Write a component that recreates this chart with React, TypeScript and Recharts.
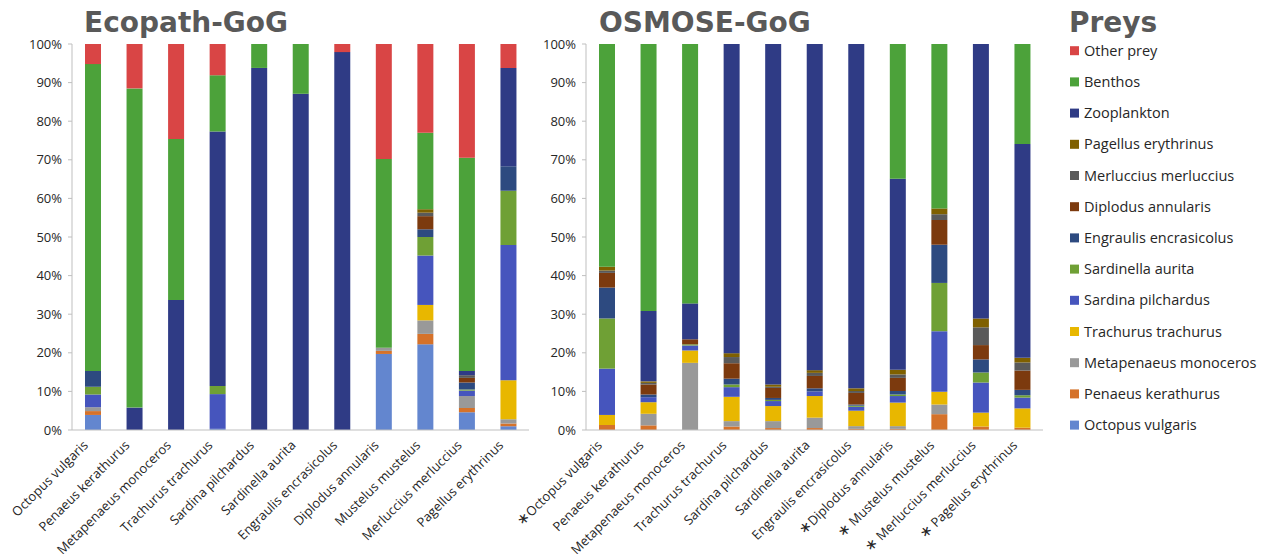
import React from 'react';
import { BarChart, Bar, XAxis, YAxis } from 'recharts';

const predators = [
  'Octopus vulgaris', 'Penaeus kerathurus', 'Metapenaeus monoceros', 'Trachurus trachurus',
  'Sardina pilchardus', 'Sardinella aurita', 'Engraulis encrasicolus', 'Diplodus annularis',
  'Mustelus mustelus', 'Merluccius merluccius', 'Pagellus erythrinus',
];
const ecopathLabels = [...predators];
const osmoseLabels = [
  '∗Octopus vulgaris', 'Penaeus kerathurus', 'Metapenaeus monoceros', 'Trachurus trachurus',
  'Sardina pilchardus', 'Sardinella aurita', 'Engraulis encrasicolus', '∗Diplodus annularis',
  '∗ Mustelus mustelus', '∗ Merluccius merluccius', '∗ Pagellus erythrinus',
];

// prey keys, bottom of stack to top
const preyKeys = [
  'Octopus vulgaris', 'Penaeus kerathurus', 'Metapenaeus monoceros', 'Trachurus trachurus',
  'Sardina pilchardus', 'Sardinella aurita', 'Engraulis encrasicolus', 'Diplodus annularis',
  'Merluccius merluccius', 'Pagellus erythrinus', 'Zooplankton', 'Benthos', 'Other prey',
];
const preyColors = [
  '#6386CF', '#D5722A', '#999999', '#E8B700', '#4655BD', '#6FA035', '#2D4A80',
  '#7C3A0E', '#5A5A5A', '#7F6000', '#2F3B85', '#4CA23A', '#D94545',
];

// Ecopath-GoG diet (%), per prey, across predators
const ecoOctopus = [3.9, 0, 0, 0.3, 0, 0, 0, 19.7, 22.2, 4.6, 1.0];
const ecoPenaeus = [1.0, 0, 0, 0, 0, 0, 0, 0.8, 2.7, 1.1, 0.7];
const ecoMetapenaeus = [1.0, 0, 0, 0, 0, 0, 0, 0.8, 3.5, 3.1, 1.1];
const ecoTrachurus = [0, 0, 0, 0, 0, 0, 0, 0, 4.0, 0, 10.1];
const ecoSardina = [3.3, 0, 0, 9.0, 0, 0, 0, 0, 12.8, 1.4, 35.0];
const ecoSardinella = [2.0, 0, 0, 2.1, 0, 0, 0, 0, 4.8, 0.3, 14.1];
const ecoEngraulis = [4.1, 0, 0, 0, 0, 0, 0, 0, 2.0, 1.8, 6.3];
const ecoDiplodus = [0, 0, 0, 0, 0, 0, 0, 0, 3.4, 1.2, 0];
const ecoMerluccius = [0, 0, 0, 0, 0, 0, 0, 0, 0.9, 0.7, 0];
const ecoPagellus = [0, 0, 0, 0, 0, 0, 0, 0, 0.9, 0, 0];
const ecoZooplankton = [0, 5.8, 33.7, 65.9, 93.8, 87.1, 97.9, 0, 0, 1.1, 25.5];
const ecoBenthos = [79.5, 82.7, 41.7, 14.6, 6.2, 12.9, 0, 48.9, 19.8, 55.2, 0];
const ecoOther = [5.2, 11.5, 24.6, 8.1, 0, 0, 2.1, 29.8, 23.0, 29.5, 6.2];

// OSMOSE-GoG diet (%)
const osmOctopus = [0, 0, 0, 0, 0, 0, 0, 0, 0, 0, 0];
const osmPenaeus = [1.3, 1.2, 0, 0.9, 0.5, 0.5, 0.3, 0.3, 4.1, 0.9, 0.6];
const osmMetapenaeus = [0, 3.0, 17.4, 1.4, 1.8, 2.7, 0.7, 0.7, 2.5, 0, 0];
const osmTrachurus = [2.6, 3.0, 3.2, 6.3, 3.9, 5.6, 4.0, 6.1, 3.3, 3.6, 5.0];
const osmSardina = [12.0, 1.3, 1.3, 2.5, 1.3, 1.2, 1.0, 1.7, 15.7, 7.8, 2.8];
const osmSardinella = [13.0, 0, 0.3, 0.7, 0.3, 0, 0.3, 0.4, 12.5, 2.6, 0.6];
const osmEngraulis = [8.0, 0.7, 0, 1.5, 0.5, 0.8, 0.3, 0.9, 9.9, 3.4, 1.4];
const osmDiplodus = [3.8, 2.6, 1.3, 4.0, 2.6, 3.2, 3.0, 3.4, 6.4, 3.7, 5.0];
const osmMerluccius = [0.6, 0.4, 0, 1.6, 0.3, 0.8, 0.5, 0.9, 1.5, 4.6, 2.1];
const osmPagellus = [1.0, 0.4, 0, 1.0, 0.6, 0.7, 0.7, 1.2, 1.5, 2.3, 1.2];
const osmZooplankton = [0, 18.2, 9.3, 80.1, 88.2, 84.5, 89.2, 49.5, 0, 71.1, 55.4];
const osmBenthos = [57.7, 69.2, 67.2, 0, 0, 0, 0, 34.9, 42.6, 0, 25.9];
const osmOther = [0, 0, 0, 0, 0, 0, 0, 0, 0, 0, 0];

const yTicks = [0, 0.1, 0.2, 0.3, 0.4, 0.5, 0.6, 0.7, 0.8, 0.9, 1];
const legendOrder = [...preyKeys].reverse();
const legendColors = [...preyColors].reverse();

const ecoSeries = [ecoOctopus, ecoPenaeus, ecoMetapenaeus, ecoTrachurus, ecoSardina, ecoSardinella,
  ecoEngraulis, ecoDiplodus, ecoMerluccius, ecoPagellus, ecoZooplankton, ecoBenthos, ecoOther];
const osmSeries = [osmOctopus, osmPenaeus, osmMetapenaeus, osmTrachurus, osmSardina, osmSardinella,
  osmEngraulis, osmDiplodus, osmMerluccius, osmPagellus, osmZooplankton, osmBenthos, osmOther];

function buildRows(series: number[][], labels: string[]) {
  return predators.map((p, i) => {
    const row: Record<string, any> = { name: labels[i] };
    preyKeys.forEach((k, j) => { row[k] = series[j][i]; });
    return row;
  });
}

const FONT = '"Open Sans", "DejaVu Sans", sans-serif';

const XTick = (props: any) => {
  const { x, y, payload } = props;
  const label: string = String(payload.value);
  const star = label.startsWith('∗');
  const rest = star ? label.slice(1) : label;
  return (
    <g transform={`translate(${x - 4},${y + 8})`}>
      <text transform="rotate(-45)" textAnchor="end" fontSize={13} fill="#262626" fontFamily={FONT}>
        {star && <tspan fontFamily='"DejaVu Sans", sans-serif' fontSize={15}>∗</tspan>}
        {rest}
      </text>
    </g>
  );
};

function Panel({ rows, left, width, yWidth, rightMargin }: { rows: any[]; left: number; width: number; yWidth: number; rightMargin: number }) {
  return (
    <div style={{ position: 'absolute', left, top: 0 }}>
      <BarChart
        width={width}
        height={554}
        data={rows}
        stackOffset="expand"
        margin={{ top: 44, right: rightMargin, bottom: 0, left: 0 }}
        barSize={16}
      >
        <XAxis
          dataKey="name"
          interval={0}
          height={124}
          tickLine={false}
          stroke="#BFBFBF"
          tick={<XTick />}
        />
        <YAxis
          width={yWidth}
          domain={[0, 1]}
          ticks={yTicks}
          tickFormatter={(v: number) => `${Math.round(v * 100)}%`}
          stroke="#BFBFBF"
          tickSize={4}
          tickMargin={6}
          tick={{ fontSize: 13, fill: '#262626', fontFamily: FONT }}
        />
        {preyKeys.map((k, j) => (
          <Bar key={k} dataKey={k} stackId="a" fill={preyColors[j]} isAnimationActive={false} />
        ))}
      </BarChart>
    </div>
  );
}

export default function App() {
  const ecoRows = buildRows(ecoSeries, ecopathLabels);
  const osmRows = buildRows(osmSeries, osmoseLabels);
  return (
    <div style={{ position: 'relative', width: 1272, height: 554, background: '#fff', overflow: 'hidden' }}>
      <style>{'body{margin:0;}'}</style>
      <Panel rows={ecoRows} left={0} width={540} yWidth={72} rightMargin={11} />
      <Panel rows={osmRows} left={460} width={600} yWidth={126} rightMargin={17} />
      <svg width={1272} height={554} style={{ position: 'absolute', left: 0, top: 0, pointerEvents: 'none' }}>
        <g fontFamily='"DejaVu Sans", sans-serif' fontWeight="bold" fontSize={28} fill="#595959">
          <text x={84} y={32}>Ecopath-GoG</text>
          <text x={599} y={32}>OSMOSE-GoG</text>
          <text x={1069} y={32}>Preys</text>
        </g>
        {legendOrder.map((k, i) => {
          const cy = 50.7 + i * 31.2;
          return (
            <g key={k}>
              <rect x={1070} y={cy - 4.5} width={9} height={9} fill={legendColors[i]} />
              <text x={1084} y={cy + 5} fontSize={14.5} fill="#262626" fontFamily={FONT}>{k}</text>
            </g>
          );
        })}
      </svg>
    </div>
  );
}
